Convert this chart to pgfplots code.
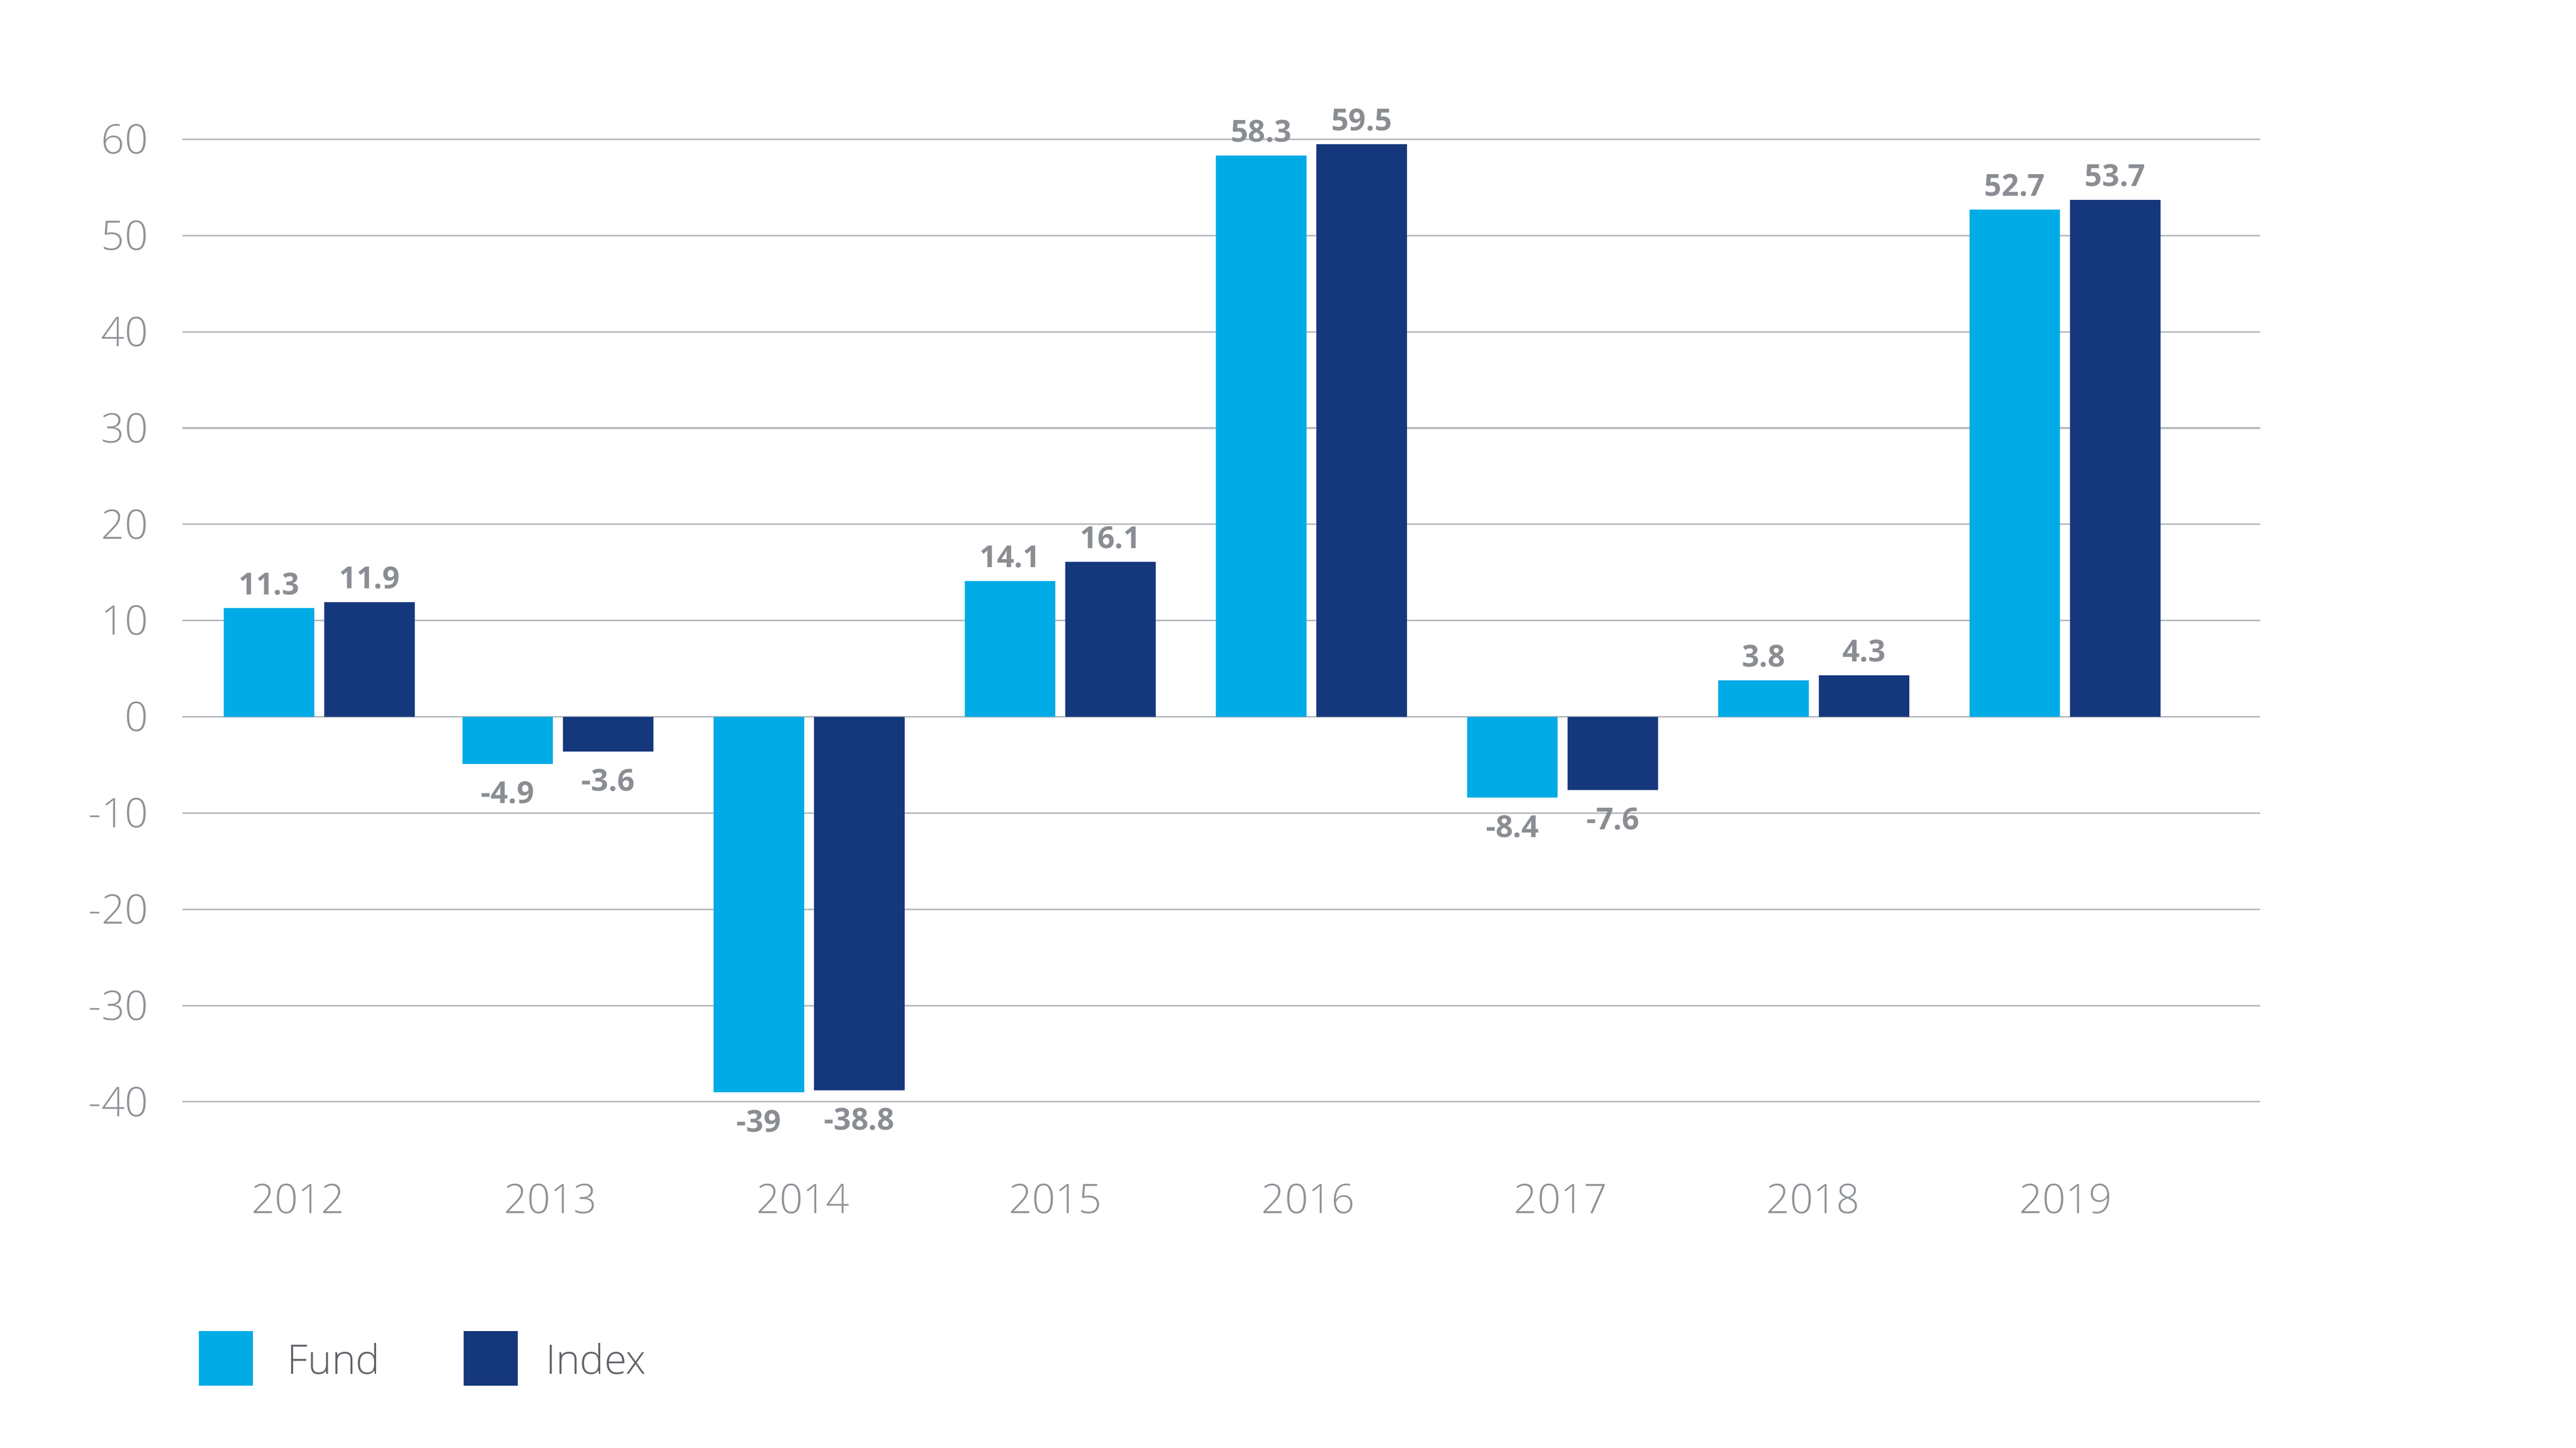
\documentclass[border=0pt]{standalone}
\usepackage{pgfplots}
\usepackage{pgfplotstable}
\pgfplotsset{compat=1.18}
\usepackage{fontspec}
\setmainfont{Open Sans}
\newfontfamily\oslight{Open Sans Light}

\definecolor{fundblue}{HTML}{00ABE6}
\definecolor{indexblue}{HTML}{15377C}
\definecolor{gridgray}{HTML}{B8BBBD}
\definecolor{tickgray}{HTML}{8D9297}
\definecolor{labelgray}{HTML}{8A8E93}
\definecolor{legendgray}{HTML}{5F6369}

% yearly returns, %
\pgfplotstableread{
x     fund   index
0.05  11.3   11.9
1     -4.9   -3.6
2     -39    -38.8
3     14.1   16.1
4     58.3   59.5
5     -8.4   -7.6
6     3.8    4.3
7     52.7   53.7
}\returns

\begin{document}
\begin{tikzpicture}
\path[use as bounding box] (0,0) rectangle (569.2pt,320pt);
\begin{axis}[
  at={(40.3pt,76.5pt)}, anchor=south west,
  scale only axis, width=459.1pt, height=212.7pt,
  xmin=-0.495, xmax=7.777, ymin=-40, ymax=60,
  ybar, bar width=0.3604,
  axis line style={draw=none},
  major tick length=0pt,
  xtick={-0.035,0.970,1.976,2.981,3.987,4.992,5.997,7.003},
  xticklabels={2012,2013,2014,2015,2016,2017,2018,2019},
  ytick={-40,-30,-20,-10,0,10,20,30,40,50,60},
  ymajorgrids,
  grid style={gridgray, line width=0.35pt},
  /pgf/number format/assume math mode=true,
  ticklabel style={font=\oslight\fontsize{9}{11}\selectfont, text=tickgray},
  yticklabel style={inner xsep=0pt, xshift=-7.4pt},
  xticklabel style={inner ysep=0pt, anchor=north, yshift=-17.9pt},
  nodes near coords,
  nodes near coords style={font=\bfseries\fontsize{6.7}{8}\selectfont,
    text=labelgray, inner ysep=3.2pt, yshift=-0.5pt},
  clip=false,
  legend columns=2,
  legend style={at={(0,0)}, anchor=west, xshift=3.6pt, yshift=-56.7pt,
    draw=none, fill=none, inner sep=0pt, outer sep=0pt,
    nodes={inner sep=0pt, text depth=0pt,
      font=\oslight\fontsize{9}{11}\selectfont, text=legendgray},
    /tikz/every odd column/.append style={column sep=7.6pt}},
]
\addplot[fill=fundblue, draw=none, bar shift=-0.2,
  legend image code/.code={\fill[fundblue] (0pt,-6pt) rectangle (12pt,6pt);}]
  table[x=x, y=fund] {\returns};
\addlegendentry{\makebox[38.9pt][l]{Fund}}
\addplot[fill=indexblue, draw=none, bar shift=0.2,
  legend image code/.code={\fill[indexblue] (0pt,-6pt) rectangle (12pt,6pt);}]
  table[x=x, y=index] {\returns};
\addlegendentry{\hspace*{-1.4pt}Index}
\end{axis}
\end{tikzpicture}
\end{document}
